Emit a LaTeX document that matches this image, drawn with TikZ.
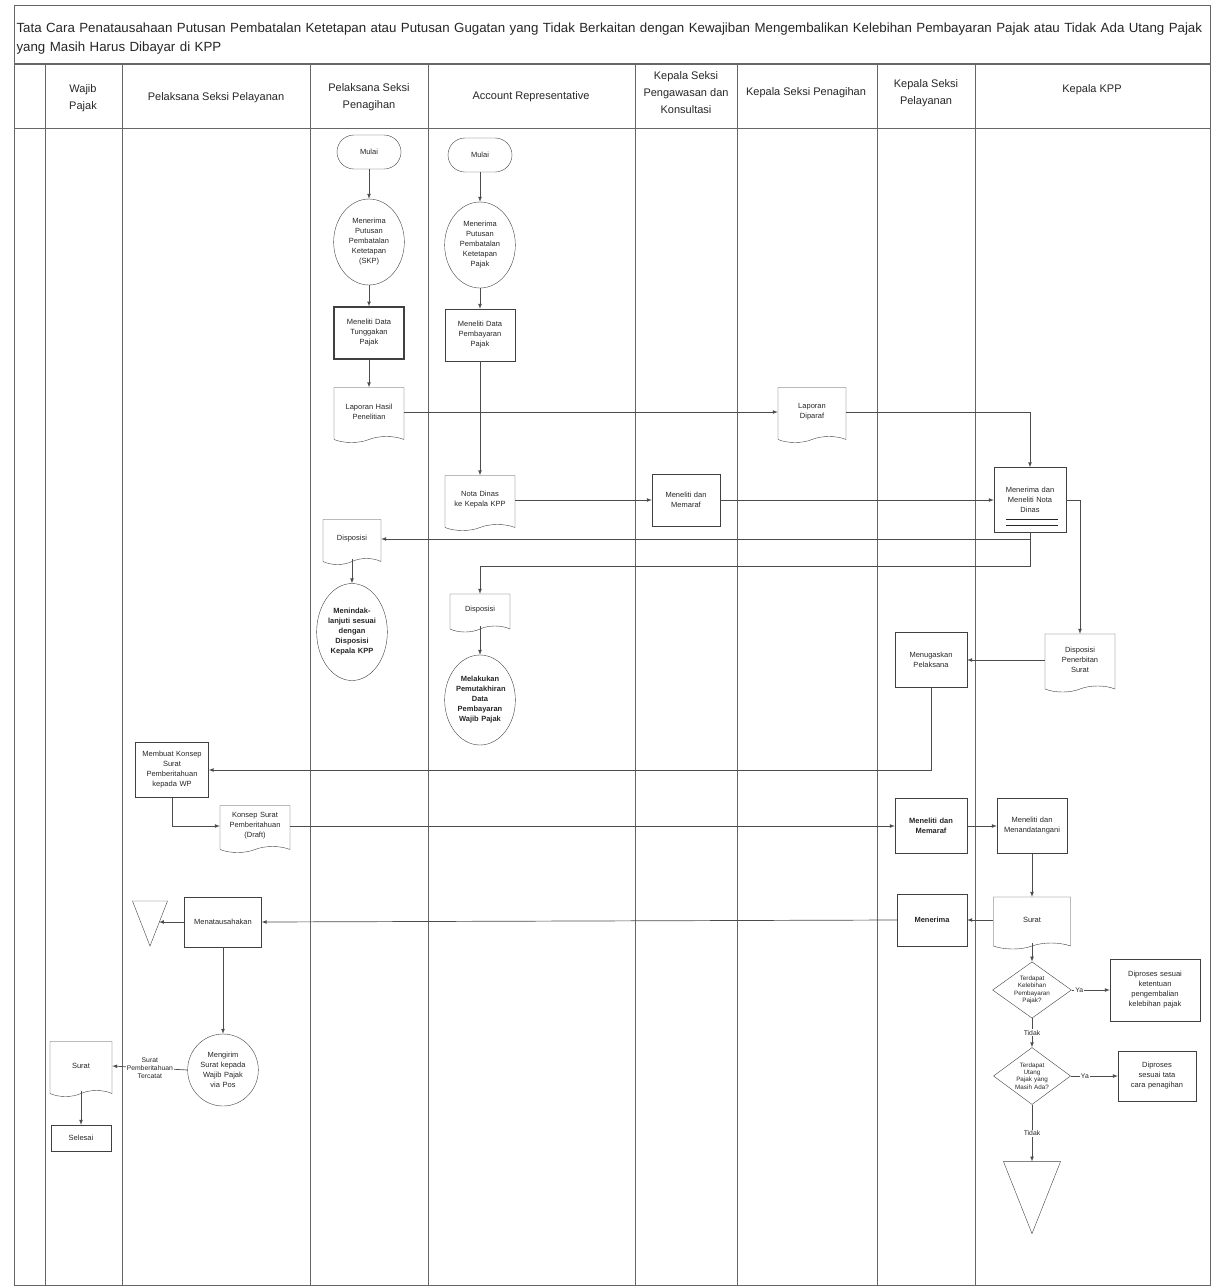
\documentclass[tikz,border=0pt]{standalone}
\usepackage{fontspec}
\setmainfont{Liberation Sans}
\usetikzlibrary{shapes}
\usetikzlibrary{arrows}
\usetikzlibrary{positioning}
\usetikzlibrary{calc}

\begin{document}
\begin{tikzpicture}[x=1pt, y=-1pt, >=latex, font=\fontsize{7.5}{10}\selectfont, color=black!85]
	\tikzstyle{shp} = [draw=black!75, align=center, text centered, inner sep=1pt]
	\tikzstyle{term} = [shp, rounded rectangle, minimum width=66pt, minimum height=34pt]
	\tikzstyle{proc} = [shp, ellipse, minimum width=68pt, minimum height=86pt, text width=48pt]
	\tikzstyle{box} = [shp, rectangle, minimum width=70pt, minimum height=52pt, text width=64pt]
	\tikzstyle{doc} = [shp, tape, tape bend top=none, tape bend height=6pt, minimum width=70pt, minimum height=52pt, text width=62pt]
	\tikzstyle{cek} = [shp, diamond, shape aspect=1.4, inner sep=0pt, minimum width=70pt, minimum height=52pt, text width=40pt, font=\fontsize{6.3}{7.3}\selectfont]
	\tikzstyle{arsip} = [shp, isosceles triangle, isosceles triangle stretches, shape border rotate=270, inner sep=0pt]
	\tikzstyle{lbl} = [fill=white, inner sep=1pt, align=center, font=\fontsize{6.8}{8.3}\selectfont]
	\tikzstyle{head} = [align=center, font=\fontsize{11}{17}\selectfont]
	\tikzstyle{lane} = [draw=black!60, line width=0.8pt]
	\tikzstyle{flow} = [->, draw=black!70, line width=0.7pt]
	\tikzstyle{tebal} = [font=\fontsize{7.5}{10}\selectfont\bfseries]
	\useasboundingbox (0,0) rectangle (1218,1288);
	\draw[lane] (14,5) rectangle (1210,1285);
	\draw[lane, line width=1.6pt] (14,64) -- (1210,64);
	\draw[lane] (14,128) -- (1210,128);
	\draw[lane] (45,64) -- (45,1285);
	\draw[lane] (122,64) -- (122,1285);
	\draw[lane] (310,64) -- (310,1285);
	\draw[lane] (428,64) -- (428,1285);
	\draw[lane] (635,64) -- (635,1285);
	\draw[lane] (737,64) -- (737,1285);
	\draw[lane] (877,64) -- (877,1285);
	\draw[lane] (975,64) -- (975,1285);
	\node (title)[anchor=north west, text width=1194pt, align=left, font=\fontsize{13.3}{19}\selectfont] at (13, 19) {Tata Cara Penatausahaan Putusan Pembatalan Ketetapan atau Putusan Gugatan yang Tidak Berkaitan dengan Kewajiban Mengembalikan Kelebihan Pembayaran Pajak atau Tidak Ada Utang Pajak\\yang Masih Harus Dibayar di KPP};
	\node (hWP)[head] at (83, 98) {Wajib\\Pajak};
	\node (hPel)[head] at (216, 98) {Pelaksana Seksi Pelayanan};
	\node (hPen)[head] at (369, 97) {Pelaksana Seksi\\Penagihan};
	\node (hAR)[head] at (531, 97) {Account Representative};
	\node (hWas)[head] at (686, 93) {Kepala Seksi\\Pengawasan dan\\Konsultasi};
	\node (hKsPen)[head] at (806, 93) {Kepala Seksi Penagihan};
	\node (hKsPel)[head] at (926, 93) {Kepala Seksi\\Pelayanan};
	\node (hKPP)[head] at (1092, 90) {Kepala KPP};
	\node (mulaiPen)[term] at (369, 152) {Mulai};
	\node (terimaPen)[proc] at (369, 242) {Menerima\\Putusan\\Pembatalan\\Ketetapan\\(SKP)};
	\node (telitiPen)[box, line width=1.1pt] at (369, 333) {Meneliti Data\\Tunggakan\\Pajak};
	\node (lapPen)[doc, minimum height=55pt] at (369, 412) {Laporan Hasil\\Penelitian};
	\node (lapKsPen)[doc, minimum width=68pt, minimum height=55pt] at (812, 412) {Laporan\\Diparaf};
	\node (mulaiAR)[term] at (480, 155) {Mulai};
	\node (terimaAR)[proc] at (480, 245) {Menerima\\Putusan\\Pembatalan\\Ketetapan\\Pajak};
	\node (telitiAR)[box] at (480, 335) {Meneliti Data\\Pembayaran\\Pajak};
	\node (ndAR)[doc, minimum height=55pt] at (480, 500) {Nota Dinas\\ke Kepala KPP};
	\node (parafWas)[box, minimum width=68pt] at (686, 500) {Meneliti dan\\Memaraf};
	\node (kppNota)[box, minimum width=72pt, minimum height=65pt] at (1030, 500) {Menerima dan\\Meneliti Nota\\Dinas};
	\node (dispPen)[doc, minimum width=58pt, minimum height=45pt, text width=52pt] at (352, 539) {Disposisi};
	\node (tindakPen)[proc, tebal, minimum width=70pt, minimum height=97pt] at (352, 632) {Menindak-\\lanjuti sesuai\\dengan\\Disposisi\\Kepala KPP};
	\node (dispAR)[doc, minimum width=60pt, minimum height=38pt, text width=54pt] at (480, 610) {Disposisi};
	\node (tindakAR)[proc, tebal, minimum width=70pt, minimum height=90pt] at (480, 700) {Melakukan\\Pemutakhiran\\Data\\Pembayaran\\Wajib Pajak};
	\node (dispKPP)[doc, minimum height=58pt] at (1080, 660) {Disposisi\\Penerbitan\\Surat};
	\node (tugasKsPel)[box, minimum width=72pt, minimum height=55pt] at (931, 660) {Menugaskan\\Pelaksana};
	\node (konsepPel)[box, minimum width=73pt, minimum height=55pt, text width=70pt] at (172, 770) {Membuat Konsep\\Surat\\Pemberitahuan\\kepada WP};
	\node (draftPel)[doc, minimum height=47pt] at (255, 826) {Konsep Surat\\Pemberitahuan\\(Draft)};
	\node (parafKsPel)[box, tebal, minimum width=72pt, minimum height=55pt] at (931, 826) {Meneliti dan\\Memaraf};
	\node (ttdKPP)[box, minimum height=55pt] at (1032, 826) {Meneliti dan\\Menandatangani};
	\node (suratKPP)[doc, minimum width=77pt] at (1032, 920) {Surat};
	\node (terimaKsPel)[box, tebal] at (932, 920) {Menerima};
	\node (tatausahaPel)[box, minimum width=77pt, minimum height=50pt, text width=72pt] at (223, 922) {Menatausahakan};
	\node (arsipPel)[arsip, minimum width=35pt, minimum height=45pt] at (150, 913) {};
	\node (kirimPel)[proc, minimum height=72pt] at (223, 1070) {Mengirim\\Surat kepada\\Wajib Pajak\\via Pos};
	\node (suratWP)[doc, minimum width=62pt, minimum height=55pt, text width=56pt] at (81, 1066) {Surat};
	\node (selesaiWP)[box, minimum width=60pt, minimum height=26pt, text width=54pt] at (81, 1138) {Selesai};
	\node (cekLebih)[cek] at (1032, 990) {Terdapat\\Kelebihan\\Pembayaran\\Pajak?};
	\node (prosesLebih)[box, minimum width=90pt, minimum height=62pt, text width=84pt] at (1155, 990) {Diproses sesuai\\ketentuan\\pengembalian\\kelebihan pajak};
	\node (cekUtang)[cek, minimum height=57pt] at (1032, 1076) {Terdapat\\Utang\\Pajak yang\\Masih Ada?};
	\node (prosesUtang)[box, minimum width=78pt, minimum height=50pt, text width=72pt] at (1157, 1076) {Diproses\\sesuai tata\\cara penagihan};
	\node (arsipKPP)[arsip, minimum width=57pt, minimum height=72pt] at (1032, 1181) {};
	\coordinate (belokAR) at (480, 566);
	\draw[flow] (mulaiPen.south) -- (terimaPen.north);
	\draw[flow] (terimaPen.south) -- (telitiPen.north);
	\draw[flow] (telitiPen.south) -- (lapPen.north);
	\draw[flow] (lapPen.east) -- (lapKsPen.west);
	\draw[flow] (lapKsPen.east) -| (kppNota.north);
	\draw[flow] (mulaiAR.south) -- (terimaAR.north);
	\draw[flow] (terimaAR.south) -- (telitiAR.north);
	\draw[flow] (telitiAR.south) -- (ndAR.north);
	\draw[flow] (ndAR.east) -- (parafWas.west);
	\draw[flow] (parafWas.east) -- (kppNota.west);
	\draw ([xshift=12pt, yshift=14pt]kppNota.south west) -- ([xshift=-8pt, yshift=14pt]kppNota.south east);
	\draw ([xshift=12pt, yshift=8pt]kppNota.south west) -- ([xshift=-8pt, yshift=8pt]kppNota.south east);
	\draw[flow] (kppNota.south) |- (dispPen.east);
	\draw[flow] (kppNota.south) |- (belokAR) -- (dispAR.north);
	\draw[flow] (kppNota.east) -| (dispKPP.north);
	\draw[flow] (dispPen.south) -- (tindakPen.north);
	\draw[flow] (dispAR.south) -- (tindakAR.north);
	\draw[flow] (dispKPP.west) -- (tugasKsPel.east);
	\draw[flow] (tugasKsPel.south) |- (konsepPel.east);
	\draw[flow] (konsepPel.south) |- (draftPel.west);
	\draw[flow] (draftPel.east) -- (parafKsPel.west);
	\draw[flow] (parafKsPel.east) -- (ttdKPP.west);
	\draw[flow] (ttdKPP.south) -- (suratKPP.north);
	\draw[flow] (suratKPP.west) -- (terimaKsPel.east);
	\draw[flow] (terimaKsPel.west) -- (tatausahaPel.east);
	\draw[flow] (tatausahaPel.west) -- ($(tatausahaPel.west -| arsipPel.center)+(9,0)$);
	\draw[flow] (tatausahaPel.south) -- (kirimPel.north);
	\draw[flow] (kirimPel.west) -- node[lbl] (lblKirim) {Surat\\Pemberitahuan\\Tercatat} (suratWP.east);
	\draw[flow] (suratWP.south) -- (selesaiWP.north);
	\draw[flow] (suratKPP.south) -- (cekLebih.north);
	\draw[flow] (cekLebih.east) -- node[lbl, pos=0.2] (lblYa1) {Ya} (prosesLebih.west);
	\draw[flow] (cekLebih.south) -- node[lbl] (lblTidak1) {Tidak} (cekUtang.north);
	\draw[flow] (cekUtang.east) -- node[lbl, pos=0.3] (lblYa2) {Ya} (prosesUtang.west);
	\draw[flow] (cekUtang.south) -- node[lbl] (lblTidak2) {Tidak} (arsipKPP);
\end{tikzpicture}
\end{document}
